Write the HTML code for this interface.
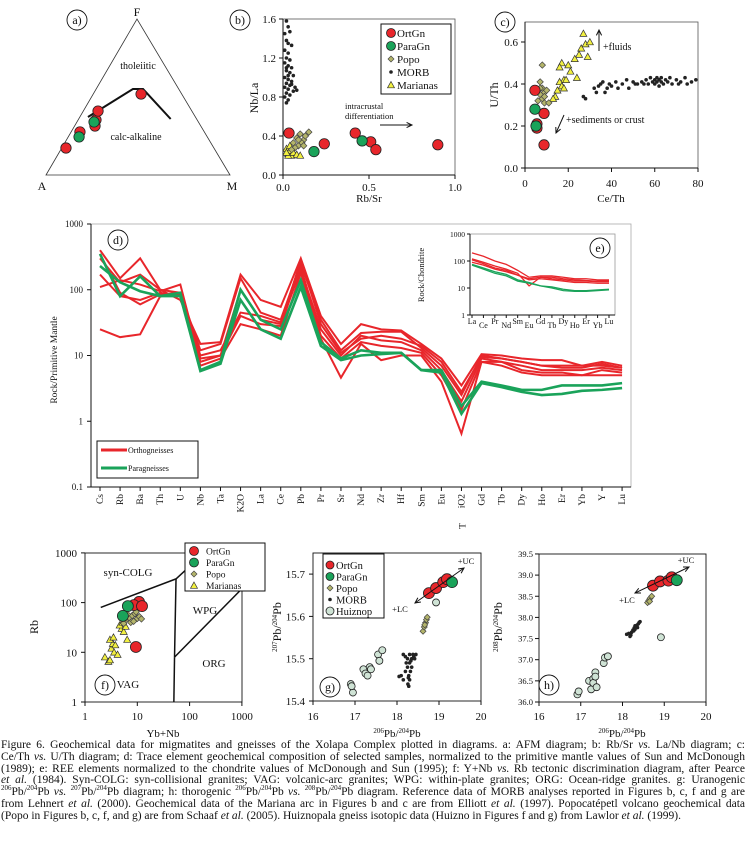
<!DOCTYPE html>
<html><head><meta charset="utf-8">
<style>
body{margin:0;background:#fff;width:746px;height:861px;overflow:hidden;font-family:"Liberation Serif",serif;}
svg{position:absolute;left:0;top:0;}
svg text{font-family:"Liberation Serif",serif;fill:#111;}
#cap{position:absolute;left:1px;top:740px;width:744px;font-size:11.5px;line-height:11.75px;color:#111;}
#cap span{display:block;white-space:nowrap;text-align:justify;text-align-last:justify;}
#cap span.last{text-align-last:left;}
sup{font-size:7px;line-height:0;}
</style></head>
<body>
<svg id="fig" width="746" height="740"></svg>
<div id="cap"><span>Figure 6. Geochemical data for migmatites and gneisses of the Xolapa Complex plotted in diagrams. a: AFM diagram; b: Rb/Sr <i>vs.</i> La/Nb diagram; c:</span><span>Ce/Th <i>vs.</i> U/Th diagram; d: Trace element geochemical composition of selected samples, normalized to the primitive mantle values of Sun and McDonough</span><span>(1989); e: REE elements normalized to the chondrite values of McDonough and Sun (1995); f: Y+Nb <i>vs.</i> Rb tectonic discrimination diagram, after Pearce</span><span><i>et al.</i> (1984). Syn-COLG: syn-collisional granites; VAG: volcanic-arc granites; WPG: within-plate granites; ORG: Ocean-ridge granites. g: Uranogenic</span><span><sup>206</sup>Pb/<sup>204</sup>Pb <i>vs.</i> <sup>207</sup>Pb/<sup>204</sup>Pb diagram; h: thorogenic <sup>206</sup>Pb/<sup>204</sup>Pb <i>vs.</i> <sup>208</sup>Pb/<sup>204</sup>Pb diagram. Reference data of MORB analyses reported in Figures b, c, f and g are</span><span>from Lehnert <i>et al.</i> (2000). Geochemical data of the Mariana arc in Figures b and c are from Elliott <i>et al.</i> (1997). Popocatépetl volcano geochemical data</span><span class="last">(Popo in Figures b, c, f, and g) are from Schaaf <i>et al.</i> (2005). Huiznopala gneiss isotopic data (Huizno in Figures f and g) from Lawlor <i>et al.</i> (1999).</span></div>
<script>
// ---------- DATA ----------
const afmRed = [[0.173,0.023],[0.276,0.048],[0.314,0.111],[0.353,0.097],[0.41,0.08],[0.519,0.26]];
const afmGreen = [[0.244,0.059],[0.34,0.093]];
const afmCurve = [[0.372,0.044],[0.551,0.2],[0.551,0.255],[0.359,0.5]];
const bRed = [[0.035,0.43],[0.24,0.32],[0.42,0.43],[0.51,0.34],[0.54,0.26],[0.90,0.31]];
const bGreen = [[0.18,0.24],[0.46,0.35]];
const bPopo = [[0.06,0.33],[0.08,0.38],[0.1,0.42],[0.12,0.36],[0.09,0.30],[0.07,0.28],[0.13,0.40],[0.15,0.44],[0.11,0.33],[0.05,0.26],[0.09,0.36],[0.12,0.30]];
const bMarianas = [[0.02,0.27],[0.03,0.22],[0.04,0.25],[0.05,0.2],[0.06,0.23],[0.03,0.2],[0.08,0.21],[0.1,0.2],[0.04,0.3],[0.02,0.23]];
const bMorb = [[0.02,1.58],[0.03,1.52],[0.01,1.45],[0.04,1.47],[0.02,1.38],[0.03,1.35],[0.05,1.33],[0.01,1.28],[0.03,1.25],[0.02,1.2],[0.04,1.18],[0.01,1.15],[0.03,1.12],[0.05,1.1],[0.02,1.07],[0.04,1.05],[0.06,1.02],[0.01,1.0],[0.03,0.98],[0.05,0.96],[0.02,0.94],[0.04,0.92],[0.07,0.9],[0.01,0.9],[0.03,0.88],[0.06,0.86],[0.02,0.84],[0.04,0.82],[0.08,0.87],[0.01,0.8],[0.03,0.77],[0.02,0.74],[0.05,0.93],[0.03,1.02],[0.02,1.1]];
const cRed = [[4.6,0.37],[8.8,0.26],[5.5,0.21],[5.5,0.19],[8.8,0.11]];
const cGreen = [[4.6,0.28],[5.1,0.2]];
const cPopo = [[8,0.49],[7,0.41],[8,0.38],[9,0.36],[10,0.37],[7,0.35],[8,0.33],[9,0.31],[6,0.32],[11,0.31],[7,0.38],[9,0.34]];
const cMarianas = [[27,0.64],[26,0.57],[28,0.59],[30,0.6],[25,0.54],[29,0.53],[23,0.52],[17,0.5],[20,0.49],[16,0.48],[21,0.46],[24,0.43],[18,0.42],[16,0.41],[19,0.42],[17,0.39],[15,0.37],[14,0.34],[13,0.33],[18,0.38]];
const cMorb = [[27,0.34],[28,0.33],[32,0.38],[33,0.36],[34,0.39],[35,0.4],[36,0.41],[37,0.36],[38,0.38],[39,0.4],[40,0.39],[42,0.41],[43,0.38],[45,0.4],[47,0.42],[48,0.38],[50,0.41],[51,0.4],[52,0.4],[54,0.41],[55,0.4],[56,0.42],[57,0.4],[58,0.43],[59,0.41],[60,0.42],[60,0.4],[61,0.43],[61,0.41],[62,0.42],[62,0.39],[63,0.41],[63,0.43],[64,0.4],[65,0.42],[66,0.41],[67,0.43],[68,0.4],[70,0.42],[71,0.4],[72,0.41],[74,0.43],[75,0.4],[77,0.41],[79,0.42]];
const spiderCats = ["Cs","Rb","Ba","Th","U","Nb","Ta","K2O","La","Ce","Pb","Pr","Sr","Nd","Zr","Hf","Sm","Eu","TiO2","Gd","Tb","Dy","Ho","Er","Yb","Y","Lu"];
const ortho1 = [400,150,300,100,70,15,16,170,70,55,300,40,15,30,25,24,15,9,3.5,10.5,10,9,8.5,8.5,7,8,7];
const ortho2 = [300,130,170,100,90,12,15,150,45,35,250,35,12,22,23,23,13,7,2.5,10,9,8,7,6.5,6.5,7.5,6.5];
const ortho3 = [170,80,70,90,80,10,12,45,40,32,200,25,10,20,17,16,12,6,2,9,8,7,6,6,6,6.5,6];
const ortho4 = [110,140,120,95,120,8,10,40,30,28,220,20,9,16,14,13,11,5,1.5,8,8,6,5.5,5.5,5,6,5.5];
const ortho5 = [25,19,21,80,85,7,9,30,25,20,180,18,4.6,15,8.5,10,10,4,0.65,8,7,5.5,5,5,5,5,5];
const ortho6 = [350,90,60,85,90,9,10,100,35,30,280,30,11,18,20,18,14,8,2.8,9.5,9,8,7,7,7,7,6.5];
const para1 = [350,80,160,80,90,6,8,100,35,25,140,16,9,12,11,11,6,6,1.7,4,3.5,3,3,3.5,3.5,3.5,3.8];
const para2 = [230,130,95,80,80,5.8,7.5,70,25,18,110,14,8.5,10,10.5,11,6,5.5,1.3,3.8,3.3,2.8,2.5,2.6,2.9,3,3.2];
const spiderTicks = [0.1,1,10,100,1000];
const reeCats = ["La","Ce","Pr","Nd","Sm","Eu","Gd","Tb","Dy","Ho","Er","Yb","Lu"];
const reeOrtho1 = [200,150,100,75,45,25,28,28,25,22,22,20,20];
const reeOrtho2 = [120,90,65,50,35,12,25,25,22,20,19,18,18];
const reeOrtho3 = [110,80,55,45,30,20,22,20,18,16,16,15,15];
const reeOrtho4 = [90,70,50,40,30,22,25,22,20,18,18,17,17];
const reePara1 = [75,55,40,32,20,16,12,11,9,8,8,8.5,9];
const reePara2 = [70,50,35,28,18,15,12,10,8,7.5,7.5,8,8.5];
const fRed = [[10.8,103],[8.6,89],[12.3,85],[9.4,12.8]];
const fGreen = [[6.6,85],[5.3,54]];
const fPopo = [[6,45],[7,50],[8,55],[9,60],[10,48],[11,52],[12,47],[7.5,40],[5.5,38],[8.5,42],[6.5,58],[9.5,65]];
const fMarianas = [[2.4,8],[2.8,6.5],[3,7],[3.2,12],[3.4,15],[3.6,10],[3,18],[3.8,14],[4.2,9],[3.5,20],[5,30],[5.5,26],[6,33],[6.4,18],[4.6,35],[5.2,40]];
const gRed = [[18.76,15.655],[18.93,15.667],[19.1,15.681],[19.19,15.688]];
const gGreen = [[19.31,15.681]];
const gPopo = [[18.62,15.565],[18.65,15.575],[18.68,15.585],[18.7,15.592],[18.72,15.598],[18.66,15.58]];
const gMorb = [[18.05,15.458],[18.1,15.46],[18.15,15.45],[18.2,15.47],[18.25,15.48],[18.3,15.49],[18.35,15.5],[18.4,15.505],[18.3,15.51],[18.2,15.505],[18.15,15.51],[18.25,15.5],[18.28,15.46],[18.3,15.45],[18.26,15.44],[18.28,15.435],[18.32,15.47],[18.35,15.48],[18.22,15.49],[18.38,15.51],[18.42,15.5],[18.45,15.51],[18.27,15.455],[18.33,15.495]];
const gHuizno = [[16.9,15.44],[16.95,15.42],[16.92,15.435],[17.2,15.475],[17.25,15.465],[17.3,15.46],[17.35,15.48],[17.38,15.475],[17.55,15.51],[17.58,15.495],[17.65,15.52],[18.93,15.633]];
const hRed = [[18.73,38.75],[18.9,38.85],[19.1,38.87],[19.18,38.95]];
const hGreen = [[19.3,38.88]];
const hPopo = [[18.6,38.35],[18.63,38.4],[18.66,38.45],[18.7,38.5],[18.65,38.38]];
const hMorb = [[18.1,37.6],[18.15,37.62],[18.2,37.58],[18.22,37.65],[18.25,37.7],[18.28,37.75],[18.3,37.72],[18.32,37.78],[18.35,37.82],[18.38,37.85],[18.4,37.88],[18.42,37.9],[18.27,37.68],[18.18,37.55],[18.3,37.8],[18.36,37.76]];
const hHuizno = [[16.92,36.18],[16.95,36.25],[17.2,36.5],[17.25,36.3],[17.3,36.55],[17.3,36.45],[17.35,36.7],[17.38,36.35],[17.35,36.6],[17.55,36.92],[17.58,37.05],[17.65,37.08],[18.92,37.53]];

// ---------- DRAW HELPERS ----------
const NS = "http://www.w3.org/2000/svg";
const svg = document.getElementById("fig");
const RED="#e8262b", GREEN="#1aa35a", POPO="#b3b46a", YEL="#f2f040", HUI="#cfe3d5";
function el(tag, attrs, name, parent){
  const e = document.createElementNS(NS, tag);
  for (const k in attrs) e.setAttribute(k, attrs[k]);
  
  
  (parent||svg).appendChild(e);
  return e;
}
function txt(x,y,s,size,name,anchor,extra){
  const t = el("text",Object.assign({x:x,y:y,"font-size":size,"text-anchor":anchor||"middle"},extra||{}),name);
  t.textContent = s; return t;
}
function rtxt(x,y,s,size,name){
  const t = el("text",{x:0,y:0,"font-size":size,"text-anchor":"middle",transform:`translate(${x},${y}) rotate(-90)`},name);
  t.textContent = s; return t;
}
function line(x1,y1,x2,y2,name,w,c){ return el("line",{x1,y1,x2,y2,stroke:c||"#111","stroke-width":w||1},name); }
function circ(x,y,r,fill,name){ return el("circle",{cx:x,cy:y,r:r,fill:fill,stroke:"#222","stroke-width":0.8},name); }
function diamond(x,y,s,fill,name){ return el("polygon",{points:`${x},${y-s} ${x+s},${y} ${x},${y+s} ${x-s},${y}`,fill:fill,stroke:"#444","stroke-width":0.7},name); }
function tri(x,y,s,fill,name){ return el("polygon",{points:`${x},${y-s} ${x+s},${y+s*0.8} ${x-s},${y+s*0.8}`,fill:fill,stroke:"#333","stroke-width":0.7},name); }
function dot(x,y,name){ return el("circle",{cx:x,cy:y,r:1.8,fill:"#222"},name); }
function labelCircle(x,y,s,name){ el("ellipse",{cx:x,cy:y,rx:10,ry:10,fill:"none",stroke:"#111","stroke-width":0.9},name+"-circle"); txt(x,y+4,s,12,name); }
function arrow(x1,y1,x2,y2,name,both){
  line(x1,y1,x2,y2,name,1);
  const ah=(xa,ya,xb,yb)=>{const a=Math.atan2(yb-ya,xb-xa),L=6;
    el("polyline",{points:`${xb-L*Math.cos(a-0.45)},${yb-L*Math.sin(a-0.45)} ${xb},${yb} ${xb-L*Math.cos(a+0.45)},${yb-L*Math.sin(a+0.45)}`,fill:"none",stroke:"#111","stroke-width":1},name+"-head");};
  ah(x1,y1,x2,y2); if(both) ah(x2,y2,x1,y1);
}
const log10 = Math.log10;

// ---------- PANEL a ----------
const A=[46,175],F=[137,19],M=[230,175];
function tern(f,m){const a=1-f-m;return [A[0]*a+F[0]*f+M[0]*m, A[1]*a+F[1]*f+M[1]*m];}
el("polygon",{points:`${A} ${F} ${M}`,fill:"none",stroke:"#333","stroke-width":0.8},"afm-triangle");
txt(42,190,"A",12,"afm-apex-a"); txt(232,190,"M",12,"afm-apex-m"); txt(137,16,"F",12,"afm-apex-f");
labelCircle(77,20,"a)","panel-a-label");
txt(138,69,"tholeiitic",10,"tholeiitic-label"); txt(136,140,"calc-alkaline",10,"calc-alkaline-label");
el("polyline",{points:afmCurve.map(p=>tern(p[0],p[1]).join(",")).join(" "),fill:"none",stroke:"#111","stroke-width":2},"afm-divide-curve");
afmRed.forEach(p=>{const q=tern(p[0],p[1]);circ(q[0],q[1],5.2,RED,"afm-ortgn-point");});
afmGreen.forEach(p=>{const q=tern(p[0],p[1]);circ(q[0],q[1],5.2,GREEN,"afm-paragn-point");});

// ---------- PANEL b ----------
const bx=v=>283+172*v, by=v=>175-97.5*v;
el("rect",{x:283,y:19,width:172,height:156,fill:"none",stroke:"#555","stroke-width":0.8},"panel-b-frame");
line(283,19,283,175,"panel-b-y-axis"); line(283,175,455,175,"panel-b-x-axis");
[0,0.4,0.8,1.2,1.6].forEach(v=>{line(279,by(v),283,by(v),"b-y-tick");txt(276,by(v)+4,v.toFixed(1),11,"b-y-tick-label","end");});
[0,0.5,1].forEach(v=>{line(bx(v),175,bx(v),179,"b-x-tick");txt(bx(v),191,v.toFixed(1),11,"b-x-tick-label");});
txt(369,202,"Rb/Sr",11,"b-x-axis-title"); rtxt(258,98,"Nb/La",12,"b-y-axis-title");
labelCircle(240,20,"b)","panel-b-label");
bMorb.forEach(p=>dot(bx(p[0]),by(p[1]),"b-morb-point"));
bMarianas.forEach(p=>tri(bx(p[0]),by(p[1]),3.5,YEL,"b-marianas-point"));
bPopo.forEach(p=>diamond(bx(p[0]),by(p[1]),3.2,POPO,"b-popo-point"));
bRed.forEach(p=>circ(bx(p[0]),by(p[1]),5.2,RED,"b-ortgn-point"));
bGreen.forEach(p=>circ(bx(p[0]),by(p[1]),5.2,GREEN,"b-paragn-point"));
txt(345,109,"intracrustal",8.5,"b-annotation","start"); txt(345,119,"differentiation",8.5,"b-annotation","start");
arrow(380,125,412,125,"b-differentiation-arrow");
el("rect",{x:381,y:24,width:70,height:70,fill:"#fff",stroke:"#111","stroke-width":1},"b-legend-box");
[["OrtGn",RED,"c"],["ParaGn",GREEN,"c"],["Popo",POPO,"d"],["MORB","#222","m"],["Marianas",YEL,"t"]].forEach((e,i)=>{
  const y=33+i*13;
  if(e[2]=="c") circ(391,y,4.5,e[1],"b-legend-marker"); else if(e[2]=="d") diamond(391,y,3,e[1],"b-legend-marker"); else if(e[2]=="m") dot(391,y,"b-legend-marker"); else tri(391,y,3.5,e[1],"b-legend-marker");
  txt(397,y+4,e[0],11,"b-legend-entry","start");
});

// ---------- PANEL c ----------
const cx=v=>525+173*v/80, cy=v=>168-210*v;
el("rect",{x:525,y:22,width:173,height:146,fill:"none",stroke:"#555","stroke-width":0.8},"panel-c-frame");
line(525,22,525,168,"panel-c-y-axis"); line(525,168,698,168,"panel-c-x-axis");
[0,0.2,0.4,0.6].forEach(v=>{line(521,cy(v),525,cy(v),"c-y-tick");txt(518,cy(v)+4,v.toFixed(1),11,"c-y-tick-label","end");});
[0,20,40,60,80].forEach(v=>{line(cx(v),168,cx(v),172,"c-x-tick");txt(cx(v),187,String(v),11,"c-x-tick-label");});
txt(611,202,"Ce/Th",11,"c-x-axis-title"); rtxt(498,95,"U/Th",12,"c-y-axis-title");
labelCircle(505,22,"c)","panel-c-label");
cMorb.forEach(p=>dot(cx(p[0]),cy(p[1]),"c-morb-point"));
cMarianas.forEach(p=>tri(cx(p[0]),cy(p[1]),3.5,YEL,"c-marianas-point"));
cPopo.forEach(p=>diamond(cx(p[0]),cy(p[1]),3.2,POPO,"c-popo-point"));
cRed.forEach(p=>circ(cx(p[0]),cy(p[1]),5.2,RED,"c-ortgn-point"));
cGreen.forEach(p=>circ(cx(p[0]),cy(p[1]),5.2,GREEN,"c-paragn-point"));
arrow(599,51,599,30,"c-fluids-arrow"); txt(603,50,"+fluids",10,"c-fluids-label","start");
arrow(564,115,556,133,"c-sediments-arrow"); txt(566,123,"+sediments or crust",10,"c-sediments-label","start");

// ---------- PANEL d ----------
const dx=i=>100+i*20.08, dy=v=>487-65.75*(log10(v)+1);
el("rect",{x:91,y:224,width:540,height:263,fill:"none",stroke:"#aaa","stroke-width":0.8},"panel-d-frame");
line(91,224,91,487,"panel-d-y-axis"); line(91,487,631,487,"panel-d-x-axis");
spiderTicks.forEach(v=>{line(87,dy(v),91,dy(v),"d-y-tick");txt(83,dy(v)+3,String(v),9,"d-y-tick-label","end");});
spiderCats.forEach((c,i)=>{line(dx(i),487,dx(i),491,"d-x-tick");
  const lab = c=="TiO2"?"iO2":c;
  const t=el("text",{x:0,y:0,"font-size":9.5,"text-anchor":"end",transform:`translate(${dx(i)+3},${494}) rotate(-90)`},"d-x-tick-label"); t.textContent=lab;});
txt(dx(18)+1,529,"T",9.5,"d-x-tick-label-t","middle",{transform:`rotate(-90 ${dx(18)+1} 526)`});
rtxt(57,360,"Rock/Primitive Mantle",9.5,"d-y-axis-title");
labelCircle(118,240,"d)","panel-d-label");
function spider(vals,color,name,xf,yf,w){el("polyline",{points:vals.map((v,i)=>xf(i)+","+yf(v)).join(" "),fill:"none",stroke:color,"stroke-width":w},name);}
[ortho1,ortho2,ortho3,ortho4,ortho5,ortho6].forEach(s=>spider(s,RED,"orthogneiss-line",dx,dy,2));
[para1,para2].forEach(s=>spider(s,GREEN,"paragneiss-line",dx,dy,2.6));
el("rect",{x:97,y:441,width:101,height:37,fill:"#fff",stroke:"#111","stroke-width":1},"d-legend-box");
line(101,450,127,450,"d-legend-ortho-swatch",3,RED); txt(128,453,"Orthogneisses",8,"d-legend-ortho","start");
line(101,468,127,468,"d-legend-para-swatch",3,GREEN); txt(128,471,"Paragneisses",8,"d-legend-para","start");

// ---------- PANEL e (inset) ----------
const ex=i=>472+i*(137/12), ey=v=>315-27*log10(v);
el("rect",{x:470,y:234,width:145,height:81,fill:"#fff",stroke:"#999","stroke-width":0.8},"panel-e-frame");
line(470,234,470,315,"e-y-axis"); line(470,315,615,315,"e-x-axis");
[1,10,100,1000].forEach(v=>{line(467,ey(v),470,ey(v),"e-y-tick");txt(465,ey(v)+3,String(v),7.5,"e-y-tick-label","end");});
reeCats.forEach((c,i)=>{line(ex(i),315,ex(i),318,"e-x-tick");txt(ex(i),i%2?328:324,c,8,"e-x-tick-label");});
rtxt(424,275,"Rock/Chondrite",8.5,"e-y-axis-title");
labelCircle(600,248,"e)","panel-e-label");
[reeOrtho1,reeOrtho2,reeOrtho3,reeOrtho4].forEach(s=>spider(s,RED,"ree-ortho-line",ex,ey,1.3));
[reePara1,reePara2].forEach(s=>spider(s,GREEN,"ree-para-line",ex,ey,1.3));

// ---------- PANEL f ----------
const fx=v=>85+52.3*log10(v), fy=v=>702-49.7*log10(v);
el("rect",{x:85,y:553,width:157,height:149,fill:"none",stroke:"#111","stroke-width":0.9},"panel-f-frame");
[1,10,100,1000].forEach(v=>{line(81,fy(v),85,fy(v),"f-y-tick");txt(77,fy(v)+4,String(v),11,"f-y-tick-label","end");
  line(fx(v),702,fx(v),706,"f-x-tick");txt(fx(v),720,String(v),11,"f-x-tick-label");});
txt(163,737,"Yb+Nb",11,"f-x-axis-title"); rtxt(38,627,"Rb",12,"f-y-axis-title");
const seg=(a,b,n)=>line(fx(a[0]),fy(a[1]),fx(b[0]),fy(b[1]),n,1.5);
seg([2,80],[55,300],"vag-syncolg-boundary"); seg([55,300],[190,1000],"syncolg-wpg-boundary");
seg([55,300],[51.5,8],"vag-wpg-boundary"); seg([51.5,8],[50,1],"vag-org-boundary"); seg([51.5,8],[1000,190],"wpg-org-boundary");
txt(128,576,"syn-COLG",11,"syn-colg-label"); txt(205,614,"WPG",11,"wpg-label"); txt(214,667,"ORG",11,"org-label"); txt(128,688,"VAG",11,"vag-label");
labelCircle(105,685,"f)","panel-f-label");
fMarianas.forEach(p=>tri(fx(p[0]),fy(p[1]),3.5,YEL,"f-marianas-point"));
fPopo.forEach(p=>diamond(fx(p[0]),fy(p[1]),3.2,POPO,"f-popo-point"));
fRed.forEach(p=>circ(fx(p[0]),fy(p[1]),5.5,RED,"f-ortgn-point"));
fGreen.forEach(p=>circ(fx(p[0]),fy(p[1]),5.5,GREEN,"f-paragn-point"));
el("rect",{x:185,y:543,width:80,height:48,fill:"#fff",stroke:"#111","stroke-width":1},"f-legend-box");
[["OrtGn",RED,"c"],["ParaGn",GREEN,"c"],["Popo",POPO,"d"],["Marianas",YEL,"t"]].forEach((e,i)=>{
  const y=551+i*11.5;
  if(e[2]=="c") circ(194,y,4.5,e[1],"f-legend-marker"); else if(e[2]=="d") diamond(194,y,3,e[1],"f-legend-marker"); else tri(194,y,3.5,e[1],"f-legend-marker");
  txt(206,y+3.5,e[0],9.5,"f-legend-entry","start");
});

// ---------- PANEL g ----------
const gx=v=>313+42*(v-16), gy=v=>701-423*(v-15.4);
el("rect",{x:313,y:553,width:168,height:148,fill:"none",stroke:"#111","stroke-width":0.9},"panel-g-frame");
[15.4,15.5,15.6,15.7].forEach(v=>{line(309,gy(v),313,gy(v),"g-y-tick");txt(305,gy(v)+4,v.toFixed(1),11,"g-y-tick-label","end");});
[16,17,18,19,20].forEach(v=>{line(gx(v),701,gx(v),705,"g-x-tick");txt(gx(v),720,String(v),11,"g-x-tick-label");});
const gxt=el("text",{x:397,y:737,"font-size":11,"text-anchor":"middle"},"g-x-axis-title"); gxt.innerHTML='<tspan font-size="7" dy="-4">206</tspan><tspan dy="4">Pb/</tspan><tspan font-size="7" dy="-4">204</tspan><tspan dy="4">Pb</tspan>';
const gyt=el("text",{x:0,y:0,"font-size":12,"text-anchor":"middle",transform:"translate(281,627) rotate(-90)"},"g-y-axis-title"); gyt.innerHTML='<tspan font-size="7" dy="-4">207</tspan><tspan dy="4">Pb/</tspan><tspan font-size="7" dy="-4">204</tspan><tspan dy="4">Pb</tspan>';
labelCircle(330,687,"g)","panel-g-label");
gHuizno.forEach(p=>circ(gx(p[0]),gy(p[1]),3.5,HUI,"g-huizno-point"));
gMorb.forEach(p=>dot(gx(p[0]),gy(p[1]),"g-morb-point"));
gPopo.forEach(p=>diamond(gx(p[0]),gy(p[1]),3,POPO,"g-popo-point"));
gRed.forEach(p=>circ(gx(p[0]),gy(p[1]),5.5,RED,"g-ortgn-point"));
gGreen.forEach(p=>circ(gx(p[0]),gy(p[1]),5.5,GREEN,"g-paragn-point"));
arrow(415,603,464,568,"g-uc-lc-arrow",true);
txt(466,564,"+UC",8.5,"g-uc-label"); txt(400,612,"+LC",8.5,"g-lc-label");
el("rect",{x:323,y:554,width:61,height:64,fill:"#fff",stroke:"#111","stroke-width":1},"g-legend-box");
[["OrtGn",RED,"c"],["ParaGn",GREEN,"c"],["Popo",POPO,"d"],["MORB","#222","m"],["Huiznop",HUI,"c"]].forEach((e,i)=>{
  const y=565+i*11.5;
  if(e[2]=="c") circ(330,y,4,e[1],"g-legend-marker"); else if(e[2]=="d") diamond(330,y,3,e[1],"g-legend-marker"); else dot(330,y,"g-legend-marker");
  txt(336,y+4,e[0],10.5,"g-legend-entry","start");
});

// ---------- PANEL h ----------
const hx=v=>539+41.75*(v-16), hy=v=>702-42.3*(v-36);
el("rect",{x:539,y:554,width:167,height:148,fill:"none",stroke:"#111","stroke-width":0.9},"panel-h-frame");
[36,36.5,37,37.5,38,38.5,39,39.5].forEach(v=>{line(535,hy(v),539,hy(v),"h-y-tick");txt(533,hy(v)+3,v.toFixed(1),8.5,"h-y-tick-label","end");});
[16,17,18,19,20].forEach(v=>{line(hx(v),702,hx(v),706,"h-x-tick");txt(hx(v),720,String(v),11,"h-x-tick-label");});
const hxt=el("text",{x:622,y:737,"font-size":11,"text-anchor":"middle"},"h-x-axis-title"); hxt.innerHTML='<tspan font-size="7" dy="-4">206</tspan><tspan dy="4">Pb/</tspan><tspan font-size="7" dy="-4">204</tspan><tspan dy="4">Pb</tspan>';
const hyt=el("text",{x:0,y:0,"font-size":12,"text-anchor":"middle",transform:"translate(502,627) rotate(-90)"},"h-y-axis-title"); hyt.innerHTML='<tspan font-size="7" dy="-4">208</tspan><tspan dy="4">Pb/</tspan><tspan font-size="7" dy="-4">204</tspan><tspan dy="4">Pb</tspan>';
labelCircle(549,685,"h)","panel-h-label");
hHuizno.forEach(p=>circ(hx(p[0]),hy(p[1]),3.5,HUI,"h-huizno-point"));
hMorb.forEach(p=>dot(hx(p[0]),hy(p[1]),"h-morb-point"));
hPopo.forEach(p=>diamond(hx(p[0]),hy(p[1]),3,POPO,"h-popo-point"));
hRed.forEach(p=>circ(hx(p[0]),hy(p[1]),5.5,RED,"h-ortgn-point"));
hGreen.forEach(p=>circ(hx(p[0]),hy(p[1]),5.5,GREEN,"h-paragn-point"));
arrow(635,593,689,567,"h-uc-lc-arrow",true);
txt(686,563,"+UC",8.5,"h-uc-label"); txt(627,603,"+LC",8.5,"h-lc-label");
</script>
</body></html>
